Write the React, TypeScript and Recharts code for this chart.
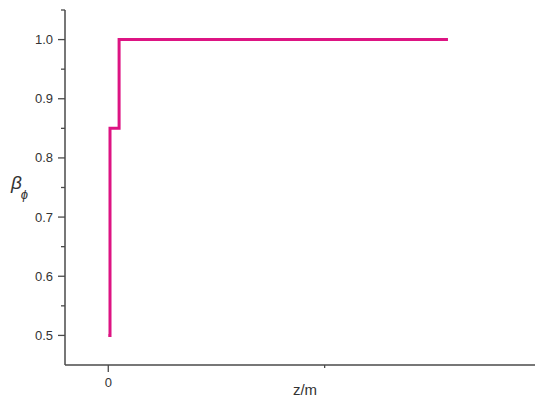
import React from "react";
import { LineChart, Line, XAxis, YAxis } from "recharts";

const zValues = [0, 0.008, 0.008, 0.05, 0.05, 1.57];
const betaValues = [0.5, 0.5, 0.85, 0.85, 1.0, 1.0];
const yTicks = [0.5, 0.55, 0.6, 0.65, 0.7, 0.75, 0.8, 0.85, 0.9, 0.95, 1.0, 1.05];
const yMajor = [0.5, 0.6, 0.7, 0.8, 0.9, 1.0];
const xTicks = [0, 1, 2];
const xMajor = [0, 2];

const data = zValues.map((z, i) => ({ z, beta: betaValues[i] }));

const AXIS = "#4a4a4a";
const TEXT = "#333";
const FONT = "'Liberation Sans', Arial, sans-serif";

const isMajor = (list: number[], v: number) => list.some((m) => Math.abs(m - v) < 1e-3);

const YTick = (props: any) => {
  const { x, y, payload } = props;
  const major = isMajor(yMajor, payload.value);
  const len = major ? 7 : 4;
  return (
    <g>
      <line x1={x - len} x2={x} y1={y} y2={y} stroke={AXIS} strokeWidth={1.3} />
      {major && (
        <text x={x - 12} y={y} dy={4.5} textAnchor="end" fontSize={13} fill={TEXT} fontFamily={FONT}>
          {payload.value.toFixed(1)}
        </text>
      )}
    </g>
  );
};

const XTick = (props: any) => {
  const { x, y, payload } = props;
  const major = isMajor(xMajor, payload.value);
  const len = major ? 7 : 3;
  return (
    <g>
      <line x1={x} x2={x} y1={y} y2={y + len} stroke={AXIS} strokeWidth={1.3} />
      {major && (
        <text x={x} y={y + 22} textAnchor="middle" fontSize={13} fill={TEXT} fontFamily={FONT}>
          {String(Math.round(payload.value))}
        </text>
      )}
    </g>
  );
};

const YLabel = () => (
  <text x={3} y={181} fontFamily={FONT} fill={TEXT} fontStyle="italic">
    <tspan fontSize={19}>β</tspan>
    <tspan fontSize={13} dx={-1} dy={10}>ϕ</tspan>
  </text>
);

const XLabel = (props: any) => {
  const vb = props.viewBox || {};
  const cx = vb.x + vb.width / 2;
  return (
    <text x={cx + 2} y={vb.y + 30} textAnchor="middle" fontSize={15} fill={TEXT} fontFamily={FONT}>
      z/m
    </text>
  );
};

export default function App() {
  return (
    <div style={{ width: 535, height: 389, background: "#fff", overflow: "hidden" }}>
      <LineChart width={562} height={389} data={data} margin={{ top: 2, right: 29, bottom: 0, left: 0 }}>
        <XAxis
          dataKey="z"
          type="number"
          domain={[-0.2, 2]}
          ticks={xTicks}
          allowDataOverflow
          height={32}
          axisLine={{ stroke: AXIS, strokeWidth: 1.5 }}
          tickLine={false}
          tickSize={0}
          tickMargin={0}
          tick={<XTick />}
          interval={0}
          label={<XLabel />}
        />
        <YAxis
          dataKey="beta"
          type="number"
          domain={[0.45, 1.05]}
          ticks={yTicks}
          allowDataOverflow
          width={57}
          axisLine={{ stroke: AXIS, strokeWidth: 1.5 }}
          tickLine={false}
          tickSize={0}
          tickMargin={0}
          tick={<YTick />}
          interval={0}
          label={<YLabel />}
        />
        <Line
          type="linear"
          dataKey="beta"
          stroke="#dd1483"
          strokeWidth={3}
          dot={false}
          isAnimationActive={false}
        />
      </LineChart>
    </div>
  );
}
